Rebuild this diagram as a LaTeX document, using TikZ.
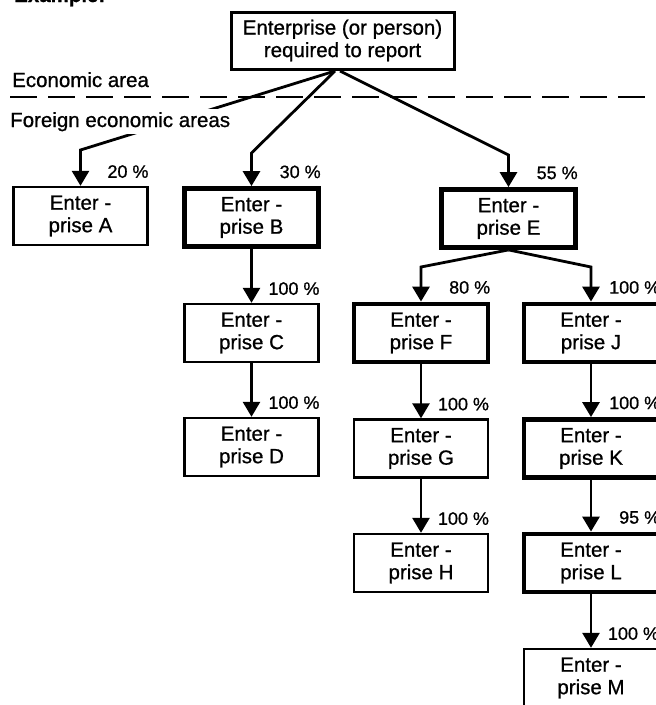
\documentclass[tikz,border=0pt]{standalone}
\usepackage{fontspec}
\setmainfont{Liberation Sans}[FakeBold=0.8]
\usetikzlibrary{arrows.meta}
\begin{document}
\begin{tikzpicture}[x=1pt,y=-1pt,
  box/.style={draw, line width=2.4pt, minimum width=134pt, minimum height=58pt,
    align=center, inner sep=0pt, font=\fontsize{20.5}{22.5}\selectfont},
  boldbox/.style={box, line width=4.8pt},
  conn/.style={line width=2.8pt, -{Triangle[length=15pt,width=17pt]}},
  pct/.style={anchor=base east, yshift=8pt, inner sep=0pt,
    font=\fontsize{18}{20}\selectfont},
  lbl/.style={inner sep=0pt, font=\fontsize{20.5}{22.5}\selectfont}]
\useasboundingbox (0,0) rectangle (656,705);

% boxes
\node[box, line width=3pt, minimum width=223pt, minimum height=57pt] (top) at (342.5,40.5)
  {Enterprise (or person)\\required to report};
\node[box]     (A) at (80.5,216)  {Enter -\\prise A};
\node[boldbox] (B) at (251.5,217.5) {Enter -\\prise B};
\node[box]     (C) at (251.5,333) {Enter -\\prise C};
\node[box]     (D) at (251.5,447) {Enter -\\prise D};
\node[boldbox] (E) at (508.5,218.5) {Enter -\\prise E};
\node[boldbox] (F) at (421,333) {Enter -\\prise F};
\node[box]     (G) at (421,448.5) {Enter -\\prise G};
\node[box]     (H) at (421,563) {Enter -\\prise H};
\node[boldbox] (J) at (591,333) {Enter -\\prise J};
\node[boldbox] (K) at (591,448.5) {Enter -\\prise K};
\node[boldbox] (L) at (591,563) {Enter -\\prise L};
\node[box]     (M) at (591,678) {Enter -\\prise M};

% area separation
\node[lbl, anchor=base west, font={\fontsize{20.5}{22.5}\selectfont\bfseries}] (ex) at (14,2) {Example:};
\node[lbl, anchor=base west] (eco) at (12,87) {Economic area};
\coordinate (d1) at (10,97);
\coordinate (d2) at (656,97);
\draw[line width=2pt, dash pattern=on 27pt off 11pt] (d1) -- (d2);

% connectors
\coordinate (o) at (335,71);
\coordinate (o2) at (340,71);
\draw[conn] (o) -- (A.north |- 0,150) -- (A.north);
\draw[conn] (o) -- (B.north |- 0,153) -- (B.north);
\draw[conn] (o2) -- (E.north |- 0,155) -- (E.north);
\draw[conn] (E.south) -- (F.north |- 0,267) -- (F.north);
\draw[conn] (E.south) -- (J.north |- 0,267) -- (J.north);
\draw[conn] (B.south) -- (C.north);
\draw[conn] (C.south) -- (D.north);
\draw[conn] (F.south) -- (G.north);
\draw[conn] (G.south) -- (H.north);
\draw[conn] (J.south) -- (K.north);
\draw[conn] (K.south) -- (L.north);
\draw[conn] (L.south) -- (M.north);

\node[lbl, anchor=base west, fill=white, inner sep=3pt] (fea) at (7,127) {Foreign economic areas};

% percentages
\node[pct] (pA) at (A.north east) {20 \%};
\node[pct] (pB) at (B.north east) {30 \%};
\node[pct] (pC) at (C.north east) {100 \%};
\node[pct] (pD) at (D.north east) {100 \%};
\node[pct] (pE) at (E.north east) {55 \%};
\node[pct] (pF) at (F.north east) {80 \%};
\node[pct] (pG) at (G.north east) {100 \%};
\node[pct] (pH) at (H.north east) {100 \%};
\node[pct] (pJ) at (J.north east) {100 \%};
\node[pct] (pK) at (K.north east) {100 \%};
\node[pct] (pL) at (L.north east) {95 \%};
\node[pct] (pM) at (M.north east) {100 \%};
\end{tikzpicture}
\end{document}
